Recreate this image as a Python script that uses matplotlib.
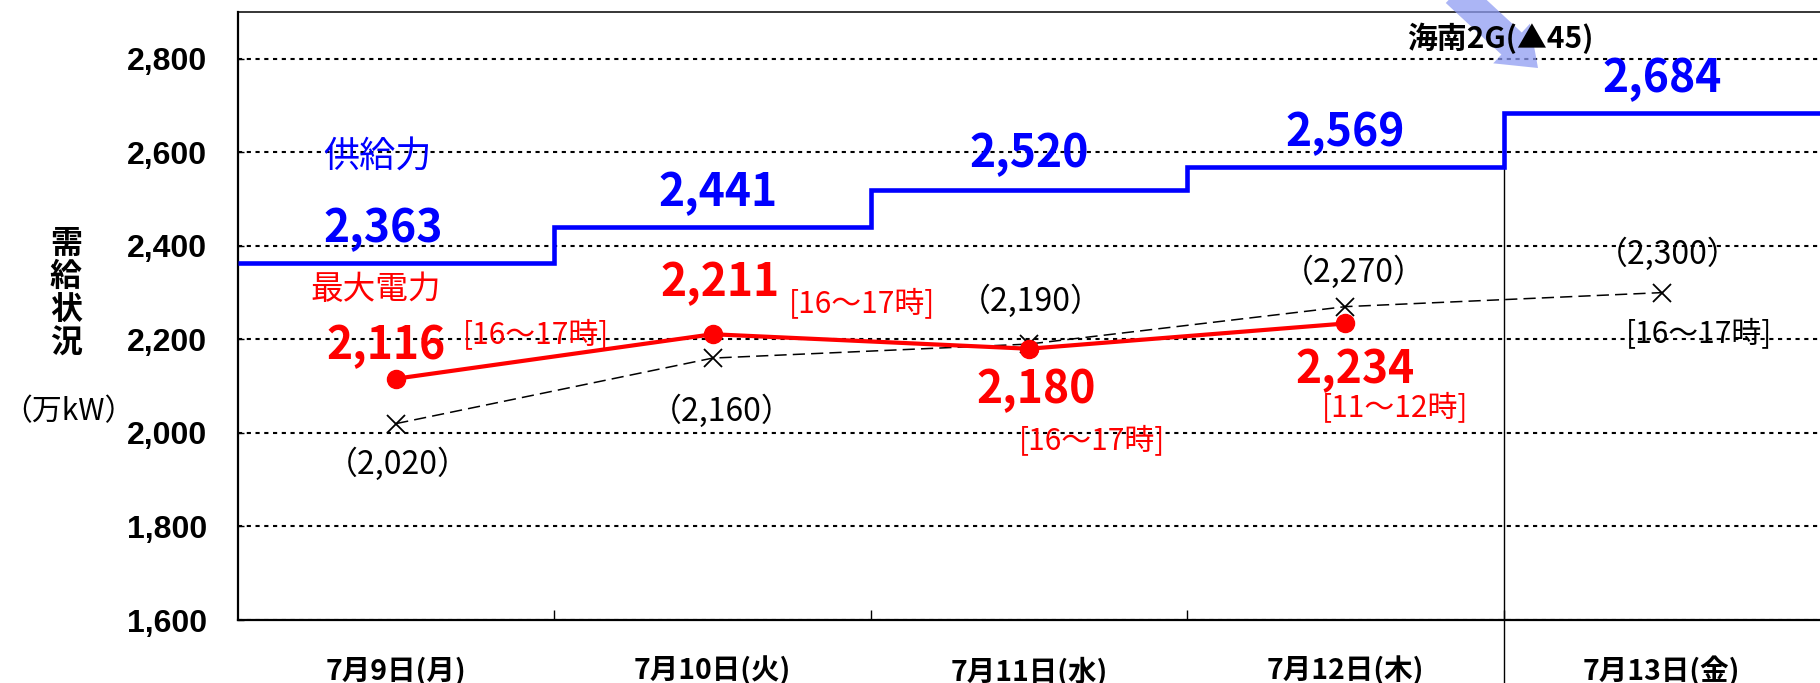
import matplotlib
matplotlib.use("Agg")
import matplotlib.pyplot as plt
import numpy as np
from matplotlib.patches import FancyArrow
from matplotlib.transforms import IdentityTransform
from matplotlib.ticker import FixedLocator, FuncFormatter

plt.rcParams['font.family'] = ['Noto Sans CJK JP', 'DejaVu Sans']

# ---- data ----
days = ["7月9日(月)", "7月10日(火)", "7月11日(水)", "7月12日(木)", "7月13日(金)"]
supply = [2363, 2441, 2520, 2569, 2684]
peak = [2116, 2211, 2180, 2234]
peak_time = ["[16～17時]", "[16～17時]", "[16～17時]", "[11～12時]"]
forecast = [2020, 2160, 2190, 2270, 2300]
forecast_time = "[16～17時]"
yticks = [1600, 1800, 2000, 2200, 2400, 2600, 2800]

W, H, DPI = 1820, 683, 100
PT = 72.0 / DPI  # points per pixel

fig = plt.figure(figsize=(W / DPI, H / DPI), dpi=DPI)
ax = fig.add_axes([238 / W, (H - 620) / H, (W - 238) / W, (620 - 12) / H])
ax.set_xlim(-0.5, len(days) - 0.5)
ax.set_ylim(1600, 2900)
x = np.arange(len(days))

# grid
ax.set_yticks(yticks)
ax.yaxis.set_major_formatter(FuncFormatter(lambda v, p: f"{v:,.0f}"))
ax.grid(axis='y', color='black', linestyle=(0, (2.0, 2.2)), linewidth=1.5)
ax.set_axisbelow(True)

# spines
for s in ['left', 'bottom']:
    ax.spines[s].set_linewidth(1.6)
ax.spines['top'].set_linewidth(1.1)
ax.spines['right'].set_visible(False)

# x ticks
ax.set_xticks(x)
ax.set_xticklabels(days, fontsize=20.5, fontweight='bold')
ax.xaxis.set_minor_locator(FixedLocator(np.arange(0.5, len(days) - 0.5, 1)))
ax.tick_params(axis='x', which='major', length=0, pad=26)
ax.tick_params(axis='x', which='minor', direction='in', length=7, width=1.0)
ax.tick_params(axis='y', direction='in', length=4, width=1.0, pad=22)
for t in ax.get_yticklabels():
    t.set_fontfamily(['Liberation Sans', 'DejaVu Sans'])
    t.set_fontweight('bold')
    t.set_fontsize(23)

# supply step
edges = np.arange(-0.5, len(days), 1)
ax.stairs(supply, edges, baseline=None, color='#0000ff', linewidth=3.3, zorder=4)

# vertical separator before the last day
ax.plot([len(days) - 1.5] * 2, [1400, supply[-1]], color='black', lw=1.0,
        clip_on=False, zorder=3)

# forecast (dashed, x markers)
ax.plot(x, forecast, color='black', lw=1.1, linestyle=(0, (8, 4)),
        marker='x', markersize=13, markeredgewidth=1.3, zorder=5)

# peak (red)
xp = x[:len(peak)]
ax.plot(xp, peak, color='#ff0000', lw=3.0, marker='o', markersize=13, zorder=6)


def lab(text, xy, dx, dy, **kw):
    ax.annotate(text, xy, xytext=(dx * PT, dy * PT), textcoords='offset points',
                ha='center', va='center', annotation_clip=False, **kw)


# supply labels
sup_off = [(-13, 34), (5, 34), (0, 36), (0, 34), (0, 34)]
for i, v in enumerate(supply):
    lab(f"{v:,}", (x[i], v), *sup_off[i], color='#0000ff', fontsize=32, fontweight='bold')
lab("供給力", (x[0], supply[0]), -19, 106, color='#0000ff', fontsize=26)

# peak labels
peak_off = [(-10, 33), (7, 51), (7, -41), (10, -47)]
time_off = [(140, 44), (149, 31), (63, -92), (50, -84)]
for i, v in enumerate(peak):
    lab(f"{v:,}", (xp[i], v), *peak_off[i], color='#ff0000', fontsize=32, fontweight='bold')
    lab(peak_time[i], (xp[i], v), *time_off[i], color='#ff0000', fontsize=21.5)
lab("最大電力", (xp[0], peak[0]), -21, 89, color='#ff0000', fontsize=23.5)

# forecast labels
fc_off = [(2, -41), (9, -53), (2, 43), (8, 34), (6, 38)]
for i, v in enumerate(forecast):
    lab(f"（{v:,}）", (x[i], v), *fc_off[i], color='black', fontsize=23)
lab(forecast_time, (x[-1], forecast[-1]), 37, -41, color='black', fontsize=21.5)

# y axis title
fig.text(66 / W, 1 - 294 / H, "\n".join("需給状況"), ha='center', va='center',
         fontsize=23, fontweight='bold', linespacing=1.05)
fig.text(68 / W, 1 - 412 / H, "（万kW）", ha='center', va='center', fontsize=21.5)

# blue arrow and outage note at top
arr = FancyArrow(1456, H + 8, 82, -76, width=30, head_width=54, head_length=36,
                 length_includes_head=True, transform=IdentityTransform(),
                 facecolor='#8f9cf2', edgecolor='none', alpha=0.75, zorder=1)
fig.patches.append(arr)
fig.text(1500 / W, 1 - 38 / H, "海南2G(▲45)", ha='center', va='center',
         fontsize=21.5, fontweight='bold', zorder=10)

fig.savefig("out.png", dpi=DPI)
